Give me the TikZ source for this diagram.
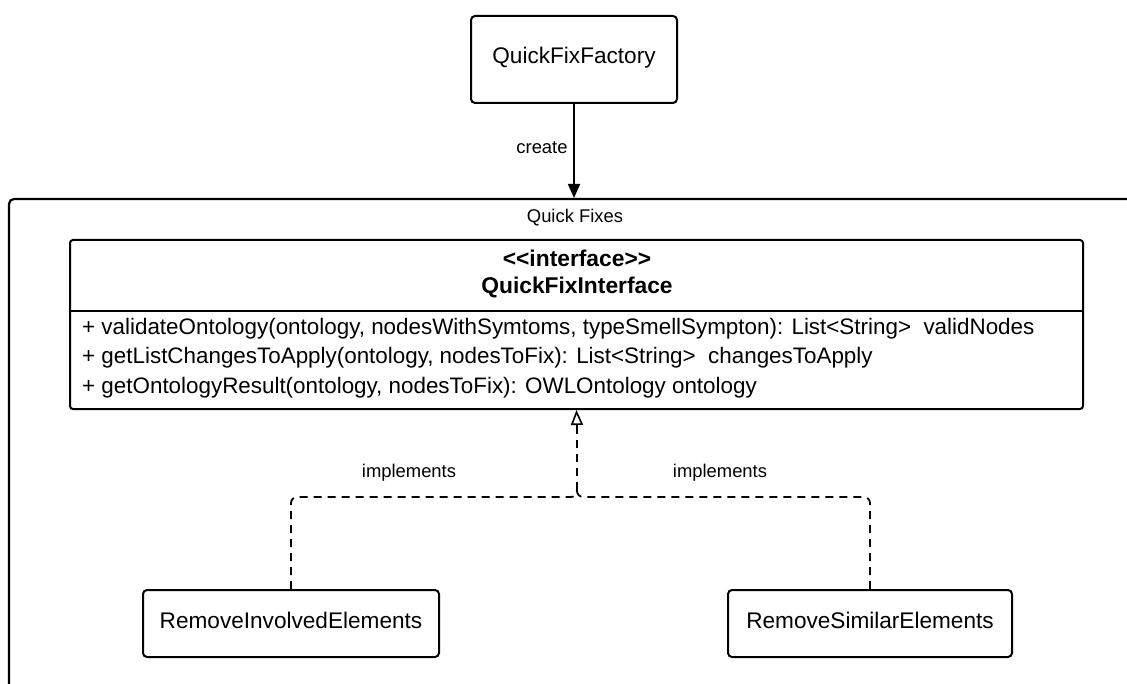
\documentclass[tikz,border=0pt]{standalone}
\usepackage{fontspec}
\setmainfont{Liberation Sans}
\usetikzlibrary{arrows.meta}
\begin{document}
\begin{tikzpicture}[x=1pt,y=-1pt,
  classbox/.style={draw, line width=2pt, rounded corners=4pt, inner sep=0pt,
    minimum height=67pt, text height=16pt, text depth=7pt,
    font=\fontsize{22.6}{26}\selectfont},
  lbl/.style={inner sep=0pt, font=\fontsize{18.4}{21}\selectfont},
  member/.style={inner sep=0pt, anchor=base west, font=\fontsize{22.4}{26}\selectfont},
  realize/.style={line width=1.8pt, dash pattern=on 8pt off 6pt}]
\useasboundingbox (0,0) rectangle (1127,684);

% package frame "Quick Fixes" (runs past the right and bottom edges)
\begin{scope}
  \clip (0,0) rectangle (1127,684);
  \draw[line width=2.2pt, rounded corners=5pt] (9,199) rectangle (1180,740);
\end{scope}
\coordinate (frametop) at (574,198);
\node[lbl, anchor=base] (pkgname) at (575,223) {Quick Fixes};

% factory
\node[classbox, minimum width=206pt, minimum height=87pt] (factory) at (574,59.5) {QuickFixFactory};
\draw[line width=1.8pt, -{Triangle[length=14pt,width=12pt]}] (factory.south) -- (frametop);
\node[lbl] (createlbl) at (542,148) {create};

% interface class
\node[draw, line width=2pt, rounded corners=3pt, inner sep=0pt,
      minimum width=1013pt, minimum height=169pt] (iface) at (576.5,324.5) {};
\draw[line width=2pt] (iface.west |- 0,311) -- (iface.east |- 0,311);
\node[inner sep=0pt, anchor=base, font=\bfseries\fontsize{22.8}{26}\selectfont]
  (stereo) at (577,267) {<\kern0pt<interface>\kern0pt>};
\node[inner sep=0pt, anchor=base, font=\bfseries\fontsize{22.8}{26}\selectfont]
  (ifname) at (577,294) {QuickFixInterface};
\node[member] (m1) at (82,335) {+ validateOntology(ontology, nodesWithSymtoms, typeSmellSympton): List<String>\ \ validNodes};
\node[member] (m2) at (82,364) {+ getListChangesToApply(ontology, nodesToFix): List<String>\ \ changesToApply};
\node[member] (m3) at (82,393) {+ getOntologyResult(ontology, nodesToFix): OWLOntology ontology};

% implementing classes
\node[classbox, minimum width=296pt] (ri) at (291,623.5) {RemoveInvolvedElements};
\node[classbox, minimum width=284pt] (rs) at (870,623.5) {RemoveSimilarElements};

% realization connectors, merging below the interface
\coordinate (junction) at (577,497);
\coordinate (jtop) at (577,490);
\coordinate (tipbase) at (577,426);
\draw[realize, rounded corners=6pt] (ri.north) |- (junction) -- (jtop);
\draw[realize, rounded corners=6pt] (rs.north) |- (junction) -- (jtop);
\draw[realize] (jtop) -- (tipbase);
\draw[line width=1.6pt, -{Triangle[open, length=15pt, width=12pt]}] (tipbase) -- (iface.south);
\node[lbl] (impl1) at (409,473) {implements};
\node[lbl] (impl2) at (720,473) {implements};
\end{tikzpicture}
\end{document}
